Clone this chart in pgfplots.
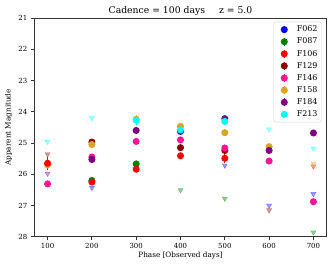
\documentclass[border=0pt]{standalone}
\usepackage{pgfplots}
\pgfplotsset{compat=1.18}
\usepackage{fontspec}
\setmainfont{DejaVu Serif}
\definecolor{c062}{RGB}{0,0,255}
\definecolor{c087}{RGB}{0,128,0}
\definecolor{c106}{RGB}{255,0,0}
\definecolor{c129}{RGB}{139,0,0}
\definecolor{c146}{RGB}{255,20,147}
\definecolor{c158}{RGB}{218,165,32}
\definecolor{c184}{RGB}{128,0,128}
\definecolor{c213}{RGB}{0,255,255}
\pgfplotsset{
  det/.style={only marks, mark=*, mark size=3bp, color=#1, line width=1bp,
    error bars/.cd, y dir=both, y explicit, error bar style={line width=1bp}, error mark=none},
  ul/.style={only marks, mark=triangle*, mark size=3bp, color=#1, opacity=0.4,
    mark options={rotate=180}, forget plot},
}
\begin{document}
\begin{tikzpicture}
\useasboundingbox (0,0) rectangle (332bp,268bp);
\begin{axis}[
  at={(34.3bp,31.3bp)}, anchor=south west,
  scale only axis, width=292.4bp, height=218.7bp,
  xmin=70, xmax=730, ymin=21, ymax=28, y dir=reverse,
  xtick={100,200,...,700}, ytick={21,22,...,28},
  tick align=outside, xtick pos=bottom, ytick pos=left,
  major tick length=3.5bp,
  tick style={line width=0.8bp, black!80},
  axis line style={line width=0.8bp, black!80},
  /pgf/number format/assume math mode=true,
  ticklabel style={font=\fontsize{7}{8}\selectfont},
  xlabel={Phase [Observed days]},
  ylabel={Apparent Magnitude},
  label style={font=\fontsize{7.3}{8}\selectfont},
  xlabel style={at={(axis description cs:0.5,0)}, anchor=center, yshift=-18.5bp},
  ylabel style={at={(axis description cs:-0.088,0.5)}, anchor=center},
  title={Cadence = 100 days\hspace{14bp}z = 5.0},
  every axis title shift=0pt,
  title style={font=\fontsize{9.3}{10}\selectfont, at={(axis description cs:0.5,1)}, anchor=south, yshift=1.5bp, inner sep=1bp},
  legend style={at={(0.983,0.983)}, anchor=north east, draw=black!20, rounded corners=2bp,
    font=\fontsize{8}{9}\selectfont, row sep=1.7bp, inner sep=2.5bp, fill=white,
    nodes={inner sep=1.5bp}},
  legend cell align=left,
  legend image code/.code={
    \path[draw=none,fill=none] (0bp,-3.8bp) rectangle (19bp,3.8bp);
    \draw[#1] (8bp,-3.8bp) -- (8bp,3.8bp);
    \draw[#1] plot coordinates {(8bp,0bp)};
  },
]
% upper limits (downward triangles)
\addplot[ul=c062] coordinates {(200,26.43) (500,25.72) (600,27.0) (700,26.63)};
\addplot[ul=c087] coordinates {(400,26.51) (500,26.78) (700,27.86)};
\addplot[ul=c106] coordinates {(700,25.75)};
\addplot[ul=c129] coordinates {(100,25.36) (600,27.15)};
\addplot[ul=c158] coordinates {(700,25.66)};
\addplot[ul=c184] coordinates {(100,25.98)};
\addplot[ul=c213] coordinates {(100,24.96) (200,24.20) (600,24.56) (700,25.17)};
% F158 point hidden under F106 at phase 100
\addplot[forget plot, det=c158] coordinates {(100,25.70) +- (0,0.08)};
% detections
\addplot[det=c062] coordinates {(400,24.63) +- (0,0.04)};
\addlegendentry{F062}
\addplot[det=c087] coordinates {(200,26.20) +- (0,0.05) (300,25.67) +- (0,0.10)};
\addlegendentry{F087}
\addplot[det=c106] coordinates {(100,25.65) +- (0,0.20) (200,26.25) +- (0,0.06) (300,25.84) +- (0,0.05) (400,25.41) +- (0,0.05) (500,25.49) +- (0,0.15)};
\addlegendentry{F106}
\addplot[det=c129] coordinates {(200,24.97) +- (0,0.04) (400,25.15) +- (0,0.04) (500,25.24) +- (0,0.05)};
\addlegendentry{F129}
\addplot[det=c146] coordinates {(100,26.31) +- (0,0.05) (200,25.45) +- (0,0.04) (300,24.95) +- (0,0.03) (400,24.90) +- (0,0.03) (500,25.16) +- (0,0.04) (600,25.58) +- (0,0.05) (700,26.88) +- (0,0.06)};
\addlegendentry{F146}
\addplot[det=c158] coordinates {(200,25.05) +- (0,0.04) (300,24.24) +- (0,0.04) (400,24.47) +- (0,0.04) (500,24.67) +- (0,0.04) (600,25.12) +- (0,0.04)};
\addlegendentry{F158}
\addplot[det=c184] coordinates {(200,25.53) +- (0,0.04) (300,24.60) +- (0,0.04) (500,24.22) +- (0,0.05) (600,25.24) +- (0,0.05) (700,24.68) +- (0,0.10)};
\addlegendentry{F184}
\addplot[det=c213] coordinates {(300,24.27) +- (0,0.15) (400,24.58) +- (0,0.05) (500,24.31) +- (0,0.12)};
\addlegendentry{F213}
\end{axis}
\end{tikzpicture}
\end{document}
